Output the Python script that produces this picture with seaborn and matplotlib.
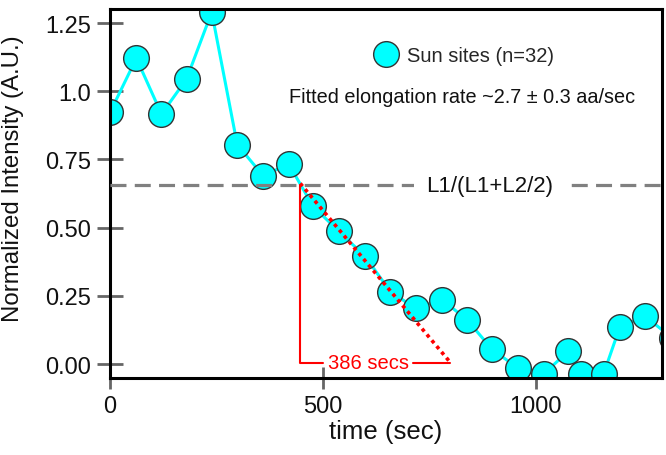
import numpy as np
import pandas as pd
import matplotlib
matplotlib.use("Agg")
import matplotlib.pyplot as plt
from matplotlib.lines import Line2D
import seaborn as sns

# ---- data ----
time_sec = [0, 62, 121, 180, 239, 299, 360, 420, 477, 538, 599, 659, 718, 780,
            839, 897, 958, 1020, 1077, 1107, 1160, 1198, 1257, 1320]
intensity = [0.922, 1.121, 0.916, 1.045, 1.290, 0.804, 0.690, 0.733, 0.578,
             0.486, 0.395, 0.265, 0.204, 0.236, 0.162, 0.055, -0.015, -0.035,
             0.047, -0.035, -0.035, 0.136, 0.175, 0.097]
series_label = "Sun sites (n=32)"
threshold = 0.656
threshold_label = "L1/(L1+L2/2)"
fit_start = (447, 0.662)
fit_end = (800, 0.005)
fit_text = "Fitted elongation rate ~2.7 \u00b1 0.3 aa/sec"
bracket_text = "386 secs"
x_ticks = [0, 500, 1000]
y_ticks = [0.0, 0.25, 0.5, 0.75, 1.0, 1.25]
y_ticklabels = ["0.00", "0.25", "0.50", "0.75", "1.0", "1.25"]

df = pd.DataFrame({"time": time_sec, "intensity": intensity})

sns.set_theme(style="white")
plt.rcParams["font.family"] = ["Liberation Sans", "DejaVu Sans"]

fig = plt.figure(figsize=(6.66, 4.56), dpi=100)
ax = fig.add_axes([110 / 666, 1 - 379 / 456, 552 / 666, 369 / 456])

sns.lineplot(data=df, x="time", y="intensity", ax=ax, color="#00FFFF",
             linewidth=2.2, marker="o", markersize=18.5,
             markerfacecolor="#00FFFF", markeredgecolor="#333333",
             markeredgewidth=1.0, zorder=2, legend=False)

# threshold dashed line
ax.axhline(threshold, color="#808080", lw=2.3, ls=(0, (5, 2.6)), zorder=3)
ax.text(892, threshold, threshold_label, fontsize=16, ha="center", va="center",
        color="#111111", zorder=4,
        bbox=dict(boxstyle="square,pad=0.55", fc="white", ec="none"))

# fit dotted line
ax.plot([fit_start[0], fit_end[0]], [fit_start[1], fit_end[1]], color="red",
        lw=2.6, ls=(0, (1, 1.1)), zorder=6, solid_capstyle="butt")

# bracket
ax.plot([fit_start[0], fit_start[0], 500], [threshold, fit_end[1], fit_end[1]],
        color="red", lw=1.5, zorder=5)
ax.plot([712, fit_end[0]], [fit_end[1], fit_end[1]], color="red", lw=1.5, zorder=5)
ax.text(607, fit_end[1] + 0.002, bracket_text, color="red", fontsize=14.5,
        ha="center", va="center", zorder=5)

# legend + fitted text
handle = Line2D([], [], ls="none", marker="o", markersize=18.5,
                markerfacecolor="#00FFFF", markeredgecolor="#333333",
                markeredgewidth=1.0)
ax.legend(handles=[handle], labels=[series_label], loc="center left",
          bbox_to_anchor=(0.482, 0.875), frameon=False, fontsize=14.5,
          handlelength=1.0, handletextpad=0.55, borderpad=0, borderaxespad=0)
ax.text(0.637, 0.764, fit_text, transform=ax.transAxes, fontsize=14.3,
        ha="center", va="center", color="#111111")

ax.set_xlim(0, 1297)
ax.set_ylim(-0.0513, 1.3014)
ax.set_xticks(x_ticks)
ax.set_xticklabels([str(t) for t in x_ticks])
ax.set_yticks(y_ticks)
ax.set_yticklabels(y_ticklabels)
ax.tick_params(axis="both", direction="inout", color="#666666", width=2.0,
               labelsize=17, pad=4, labelcolor="#111111",
               left=True, bottom=True)
ax.tick_params(axis="y", length=19)
ax.tick_params(axis="x", length=16)
for s in ax.spines.values():
    s.set_color("black")
    s.set_linewidth(2.2)
    s.set_visible(True)

ax.set_xlabel("time (sec)", fontsize=18.5, color="#111111", labelpad=2)
ax.set_ylabel("Normalized Intensity (A.U.)", fontsize=17.3, color="#111111",
              labelpad=4)
ax.yaxis.set_label_coords(-0.155, 0.542)

fig.savefig("out.png", dpi=100)
